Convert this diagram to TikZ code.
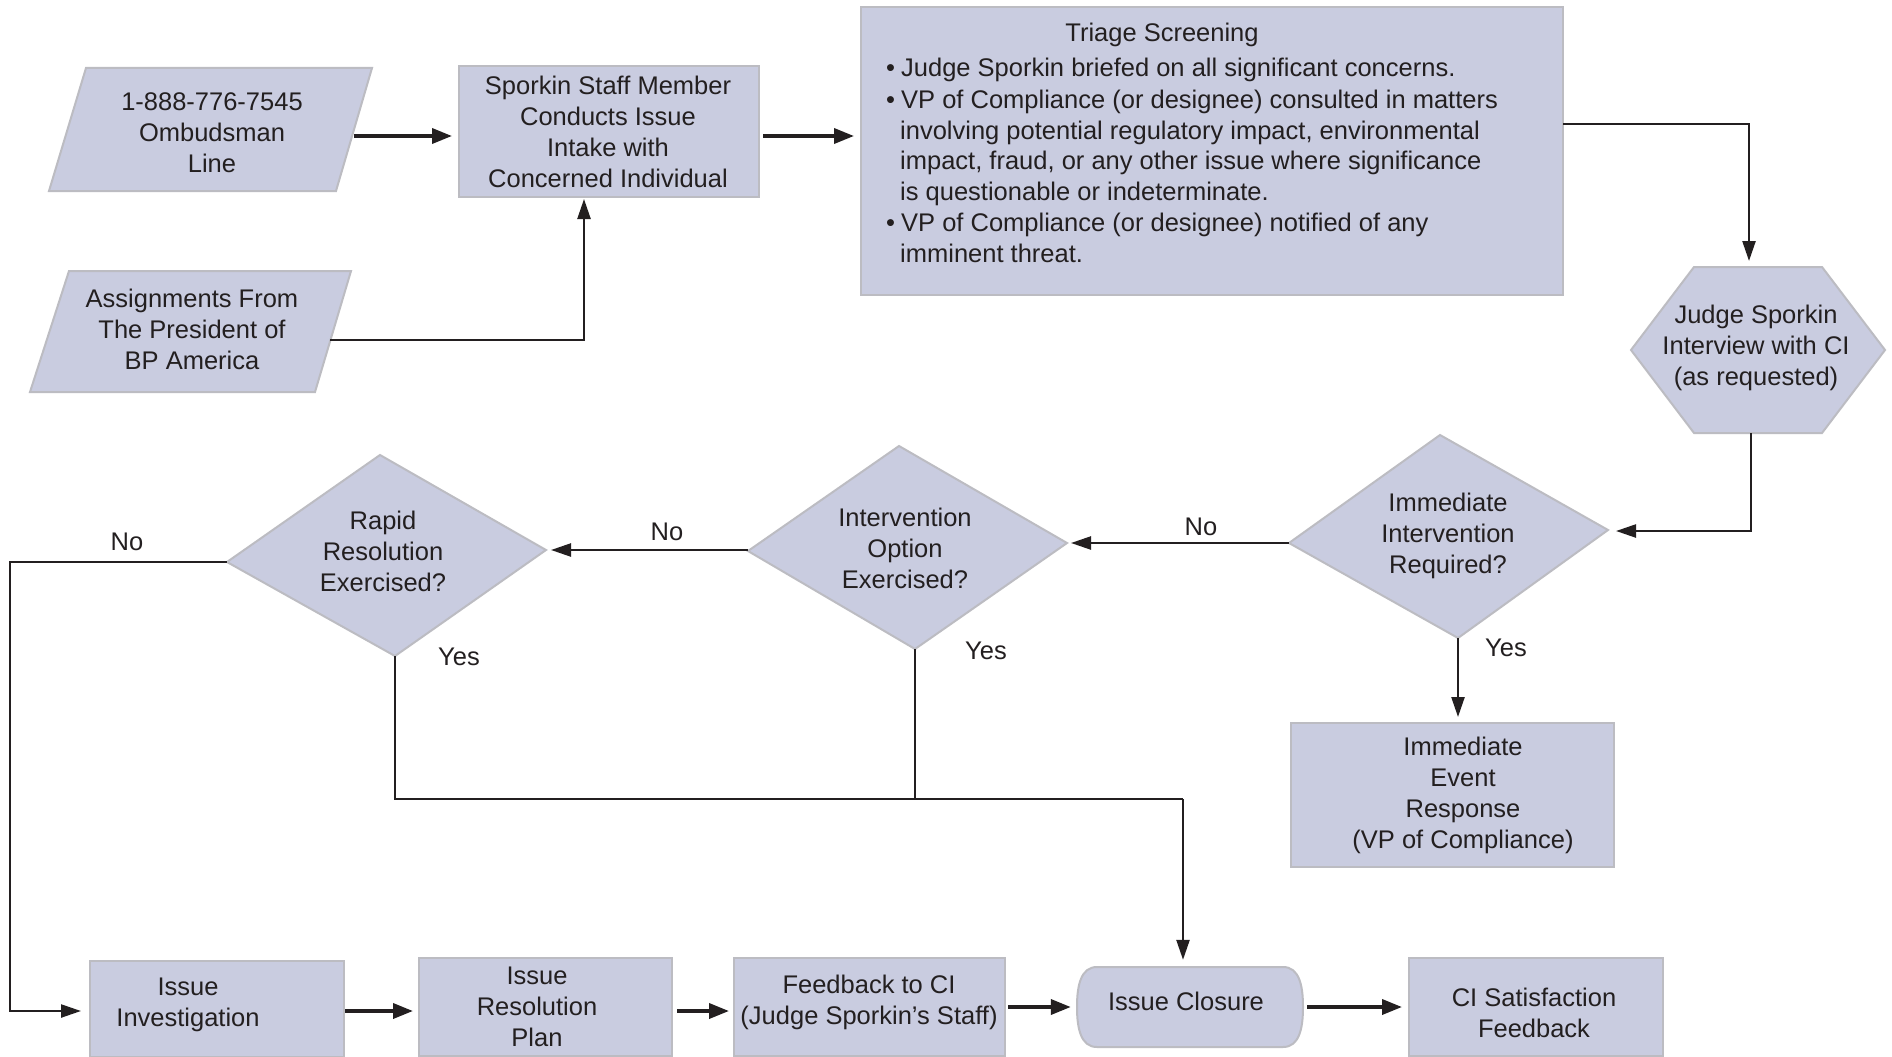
\documentclass[tikz,border=0pt]{standalone}
\usepackage{fontspec}
\setmainfont{Liberation Sans}
\usetikzlibrary{arrows.meta,calc}
\definecolor{boxfill}{RGB}{201,204,224}
\definecolor{boxline}{RGB}{188,188,194}
\definecolor{ink}{RGB}{35,31,32}
\newcommand\dfont{\fontsize{25.5pt}{31pt}\selectfont}
\begin{document}
\begin{tikzpicture}[x=1pt,y=-1pt,
  shp/.style={fill=boxfill, draw=boxline, line width=2pt, inner sep=0pt},
  txt/.style={font=\dfont, align=center, inner sep=0pt, text=ink},
  ln/.style={font=\dfont, inner sep=0pt, anchor=west, text height=18pt, text depth=0pt, text=ink},
  lbl/.style={font=\dfont, inner sep=0pt, text height=18pt, text depth=0pt, text=ink},
  conn/.style={line width=2.4pt, draw=ink},
  arr/.style={conn, -{Triangle[length=20pt,width=13pt]}},
  sarr/.style={line width=3.6pt, draw=ink, -{Triangle[length=20pt,width=15pt]}}]
\useasboundingbox (0,0) rectangle (1892,1057);
\fill[white] (0,0) rectangle (1892,1057);

% ---------- shapes ----------
\filldraw[shp] (86,68) -- (372,68) -- (336,191) -- (49,191) -- cycle;
\filldraw[shp] (69,271) -- (351,271) -- (315,392) -- (30,392) -- cycle;
\node[shp, minimum width=300pt, minimum height=131pt] (spk) at (609,131.5) {};
\node[shp, minimum width=702pt, minimum height=288pt] (tri) at (1212,151) {};
\filldraw[shp] (1631,350) -- (1694,267) -- (1822,267) -- (1885,350) -- (1822,433) -- (1694,433) -- cycle;
\filldraw[shp] (1440,435) -- (1608,530) -- (1458,638) -- (1289,543) -- cycle;
\filldraw[shp] (899,446) -- (1067,543) -- (915,649) -- (748,551) -- cycle;
\filldraw[shp] (380,455) -- (546,550) -- (395,656) -- (227,562) -- cycle;
\node[shp, minimum width=323pt, minimum height=144pt] (ier) at (1452.5,795) {};
\node[shp, minimum width=254pt, minimum height=96pt] (inv) at (217,1009) {};
\node[shp, minimum width=253pt, minimum height=98pt] (rp) at (545.5,1007) {};
\node[shp, minimum width=271pt, minimum height=98pt] (fb) at (869.5,1007) {};
\filldraw[shp] (1097,967) -- (1283,967) .. controls (1299,967) and (1303,985) .. (1303,1007)
  .. controls (1303,1029) and (1299,1047) .. (1283,1047) -- (1097,1047)
  .. controls (1081,1047) and (1077,1029) .. (1077,1007)
  .. controls (1077,985) and (1081,967) .. (1097,967) -- cycle;
\node[inner sep=0pt, minimum width=226pt, minimum height=80pt] (clo) at (1190,1007) {};
\node[shp, minimum width=254pt, minimum height=98pt] (cis) at (1536,1007) {};

% ---------- coordinates ----------
\coordinate (ombR) at (354,136);
\coordinate (asgR) at (330,340);
\coordinate (spkIn) at (584,197);
\coordinate (triR) at (1563,124);
\coordinate (hexT) at (1749,267);
\coordinate (hexB) at (1751,433);
\coordinate (d1r) at (1608,531);
\coordinate (d1l) at (1289,543);
\coordinate (d1b) at (1458,638);
\coordinate (d2r) at (1067,543);
\coordinate (d2l) at (748,550);
\coordinate (d2b) at (915,649);
\coordinate (d3r) at (546,550);
\coordinate (d3l) at (227,562);
\coordinate (d3b) at (395,656);
\coordinate (leftX) at (10,562);
\coordinate (jn) at (1183,799);
\coordinate (r1) at (0,1011);
\coordinate (r2) at (0,1007);

% ---------- connectors ----------
\draw[sarr, shorten >=6pt] (ombR) -- (ombR -| spk.west);
\draw[sarr, shorten <=3pt, shorten >=6pt] (ombR -| spk.east) -- (ombR -| tri.west);
\draw[arr, shorten >=2pt] (asgR) -| (spkIn);
\draw[arr, shorten >=6pt] (triR) -| (hexT);
\draw[arr, shorten >=8pt] (hexB) |- (d1r);
\draw[arr, shorten >=4pt] (d1l) -- (d2r);
\draw[arr, shorten >=5pt] (d1b) -- (d1b |- ier.north);
\draw[arr, shorten >=5pt] (d2l) -- (d3r);
\draw[arr, shorten >=8pt] (d3l) -- (leftX) |- (r1 -| inv.west);
\draw[conn] (d3b) |- (jn);
\draw[conn] (d2b) -- (d2b |- jn);
\draw[arr, shorten >=7pt] (jn) -- (jn |- clo.north);
\draw[sarr, shorten >=5pt] (r1 -| inv.east) -- (r1 -| rp.west);
\draw[sarr, shorten <=4pt, shorten >=4pt] (r1 -| rp.east) -- (r1 -| fb.west);
\draw[sarr, shorten <=2pt, shorten >=6pt] (r2 -| fb.east) -- (r2 -| clo.west);
\draw[sarr, shorten <=4pt, shorten >=6pt] (r2 -| clo.east) -- (r2 -| cis.west);

% ---------- texts ----------
\node[txt] (ombt) at (212,133) {1-888-776-7545\\Ombudsman\\Line};
\node[txt] (asgt) at (192,329) {Assignments From\\The President of\\BP America};
\node[txt] (spkt) at (608,131.5) {Sporkin Staff Member\\Conducts Issue\\Intake with\\Concerned Individual};
\node[lbl] (tri0) at (1162,33) {Triage Screening};
\node[ln] (tri1) at (886,68) {\makebox[15pt][l]{•}Judge Sporkin briefed on all significant concerns.};
\node[ln] (tri2) at (886,99) {\makebox[15pt][l]{•}VP of Compliance (or designee) consulted in matters};
\node[ln] (tri3) at (900,130) {involving potential regulatory impact, environmental};
\node[ln] (tri4) at (900,160) {impact, fraud, or any other issue where significance};
\node[ln] (tri5) at (900,191) {is questionable or indeterminate.};
\node[ln] (tri6) at (886,222) {\makebox[15pt][l]{•}VP of Compliance (or designee) notified of any};
\node[ln] (tri7) at (900,253) {imminent threat.};
\node[txt] (hext) at (1756,348) {Judge Sporkin\\Interview with CI\\(as requested)};
\node[txt] (d1t) at (1448,536) {Immediate\\Intervention\\Required?};
\node[txt] (d2t) at (905,548) {Intervention\\Option\\Exercised?};
\node[txt] (d3t) at (383,551) {Rapid\\Resolution\\Exercised?};
\node[txt] (iert) at (1463,795) {Immediate\\Event\\Response\\(VP of Compliance)};
\node[txt] (invt) at (188,1005) {Issue\\Investigation};
\node[txt] (rpt) at (537,1007) {Issue\\Resolution\\Plan};
\node[txt] (fbt) at (869,1002) {Feedback to CI\\(Judge Sporkin’s Staff)};
\node[lbl] (clot) at (1186,1001) {Issue Closure};
\node[txt] (cist) at (1534,1013) {CI Satisfaction\\Feedback};
\node[lbl] (no1) at (1201,526) {No};
\node[lbl] (no2) at (667,531) {No};
\node[lbl] (no3) at (127,541) {No};
\node[lbl] (yes1) at (1506,647) {Yes};
\node[lbl] (yes2) at (986,650) {Yes};
\node[lbl] (yes3) at (459,656) {Yes};
\end{tikzpicture}
\end{document}
